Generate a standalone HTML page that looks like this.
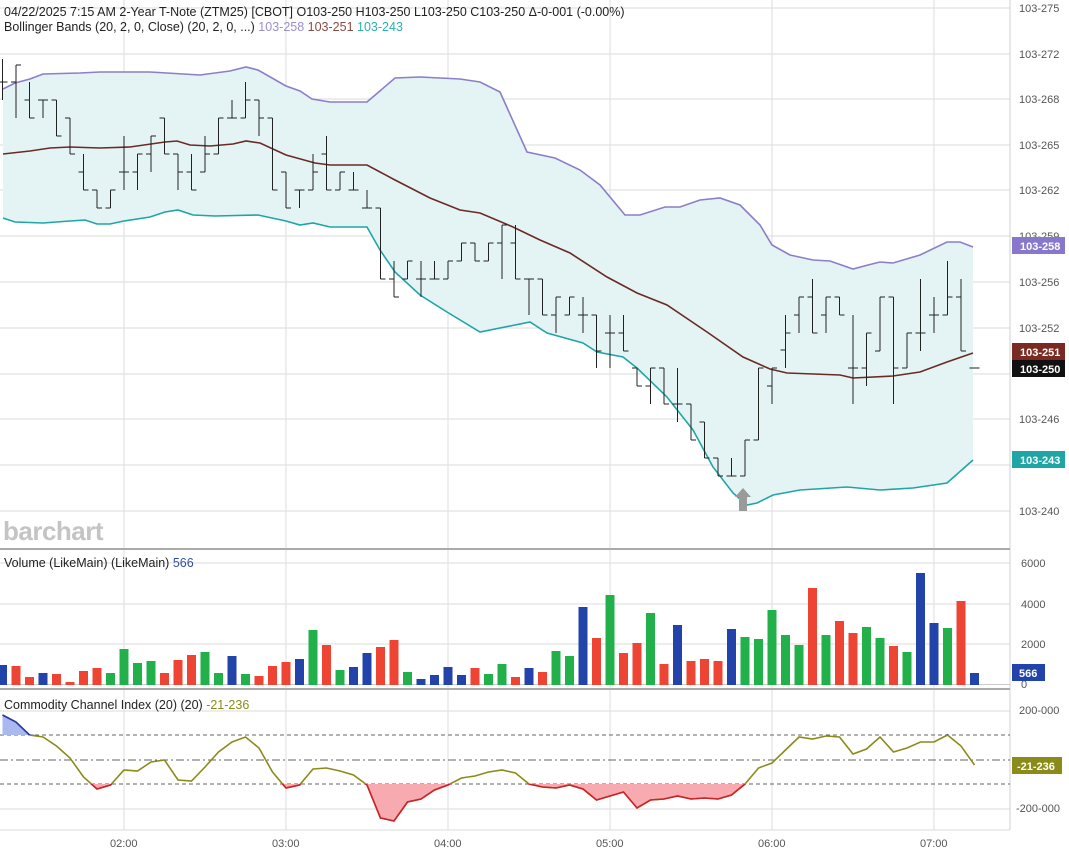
<!DOCTYPE html>
<html><head><meta charset="utf-8"><style>
body{margin:0;background:#fff;width:1069px;height:857px;overflow:hidden;font-family:"Liberation Sans",sans-serif}
svg{position:absolute;left:0;top:0}
</style></head><body>
<svg id="s" width="1069" height="857" viewBox="0 0 1069 857" font-family="Liberation Sans, sans-serif">
<g id="grid" stroke="#e2e2e2" stroke-width="1.2"></g>
<g id="main"></g>
<text x="4" y="16" font-size="12.5" fill="#222">04/22/2025  7:15 AM 2-Year T-Note (ZTM25) [CBOT] O103-250 H103-250 L103-250 C103-250 Δ-0-001 (-0.00%)</text>
<text x="4" y="31" font-size="12.5" fill="#222">Bollinger Bands (20, 2, 0, Close)  (20, 2, 0, ...) <tspan fill="#9a8fd0">103-258</tspan> <tspan fill="#8a4a44">103-251</tspan> <tspan fill="#2ab0b0">103-243</tspan></text>
<text x="3" y="540" font-size="26" font-weight="bold" fill="#c4c4c4" letter-spacing="-0.5">barchart</text>
<text x="4" y="567" font-size="12.5" fill="#222">Volume (LikeMain)  (LikeMain) <tspan fill="#3050a8">566</tspan></text>
<text x="4" y="709" font-size="12.5" fill="#222">Commodity Channel Index (20)  (20) <tspan fill="#8b8b1a">-21-236</tspan></text>
<g font-size="11" fill="#555">
<text x="1019" y="12">103-275</text><text x="1019" y="58">103-272</text><text x="1019" y="103">103-268</text><text x="1019" y="149">103-265</text><text x="1019" y="194">103-262</text><text x="1019" y="240">103-259</text><text x="1019" y="286">103-256</text><text x="1019" y="332">103-252</text><text x="1019" y="423">103-246</text><text x="1019" y="515">103-240</text>
<text x="1021" y="567">6000</text><text x="1021" y="608">4000</text><text x="1021" y="648">2000</text><text x="1021" y="688">0</text>
<text x="1019" y="714">200-000</text><text x="1016" y="812">-200-000</text>
<text x="110" y="847">02:00</text><text x="272" y="847">03:00</text><text x="434" y="847">04:00</text><text x="596" y="847">05:00</text><text x="758" y="847">06:00</text><text x="920" y="847">07:00</text>
</g>
<g font-size="11" font-weight="bold" fill="#fff">
<rect x="1012" y="237" width="53" height="17" fill="#8877cc"/><text x="1020" y="250">103-258</text>
<rect x="1012" y="343" width="53" height="17" fill="#7b2a22"/><text x="1020" y="356">103-251</text>
<rect x="1012" y="360" width="53" height="17" fill="#111"/><text x="1020" y="373">103-250</text>
<rect x="1012" y="451" width="53" height="17" fill="#1fa5a5"/><text x="1020" y="464">103-243</text>
<rect x="1012" y="664" width="33" height="17" fill="#2244aa"/><text x="1019" y="677">566</text>
<rect x="1012" y="757" width="50" height="17" fill="#8b8b1a"/><text x="1017" y="770">-21-236</text>
</g>
</svg>
<script>
var NS="http://www.w3.org/2000/svg",g=document.getElementById('grid'),m=document.getElementById('main');
function el(p,t,a){var e=document.createElementNS(NS,t);for(var k in a)e.setAttribute(k,a[k]);p.appendChild(e);return e}
[8,54,99,145,190,236,282,328,374,419,465,511,563,604,644,711,735,760,784,809,830].forEach(function(y){if([735,760,784].indexOf(y)<0)el(g,'line',{x1:0,x2:1010,y1:y,y2:y})});
[124,286,448,610,772,934].forEach(function(x){el(g,'line',{x1:x,x2:x,y1:0,y2:830})});
el(m,'line',{x1:1010,x2:1010,y1:0,y2:830,stroke:'#d0d0d0'});
el(m,'line',{x1:0,x2:1010,y1:549,y2:549,stroke:'#aaa','stroke-width':2});
el(m,'line',{x1:0,x2:1010,y1:689,y2:689,stroke:'#aaa','stroke-width':2});
el(m,'line',{x1:0,x2:1010,y1:684.5,y2:684.5,stroke:'#ccc'});
function X(i){return 2.5+i*13.5}
var up=[[3,89],[15,83],[30,79],[43,74],[80,73],[100,72],[150,72],[200,75],[230,71],[246,67],[258,70],[286,86],[300,91],[312,99],[330,102],[367,102],[395,78],[420,77],[460,79],[480,82],[500,92],[527,152],[555,158],[580,170],[600,185],[625,215],[640,215],[665,207],[680,207],[700,200],[720,198],[740,205],[760,225],[772,245],[790,255],[813,260],[830,261],[853,269],[868,265],[880,262],[893,263],[920,255],[947,242],[960,242],[973,247]];
var lo=[[3,218],[15,222],[43,223],[70,221],[85,220],[97,224],[110,224],[124,221],[150,217],[165,212],[178,210],[193,215],[215,216],[258,215],[286,221],[300,225],[313,223],[330,227],[367,227],[380,250],[395,272],[420,295],[447,312],[480,332],[530,322],[547,333],[583,343],[597,352],[623,357],[637,368],[667,397],[693,430],[713,467],[733,493],[747,505],[757,503],[773,495],[800,490],[847,487],[880,490],[913,488],[947,483],[973,460]];
var mid=[[3,154],[30,151],[50,148],[70,147],[100,148],[130,147],[165,142],[177,141],[190,145],[210,146],[233,144],[246,141],[260,143],[286,155],[315,163],[330,165],[367,165],[395,180],[430,198],[460,210],[480,213],[513,227],[540,240],[570,253],[607,277],[637,293],[667,305],[707,332],[743,357],[770,369],[787,373],[840,375],[853,378],[893,376],[920,372],[947,362],[973,353]];
function pts(a){return a.map(function(p){return p[0]+','+p[1]}).join(' ')}
el(m,'polygon',{points:pts(up)+' '+pts(lo.slice().reverse()),fill:'#e4f4f5'});
el(m,'polyline',{points:pts(up),fill:'none',stroke:'#8a7fc8','stroke-width':1.6});
el(m,'polyline',{points:pts(lo),fill:'none',stroke:'#1fa5a5','stroke-width':1.6});
el(m,'polyline',{points:pts(mid),fill:'none',stroke:'#6b2a22','stroke-width':1.6});
// O H L C
var B=[[82,59,100,82],[82,65,118,65],[100,82,118,118],[100,100,118,100],[100,100,136,136],[118,118,154,154],[172,154,190,190],[190,190,208,208],[208,190,208,190],[172,136,190,172],[172,154,190,154],[154,136,172,136],[118,118,154,154],[154,154,190,172],[172,154,190,190],[172,136,172,154],[154,118,154,118],[118,100,118,118],[118,82,118,100],[100,100,136,118],[118,118,190,190],[172,172,208,208],[190,190,208,190],[190,154,190,172],[154,136,190,190],[190,172,190,172],[190,172,190,190],[208,190,208,208],[208,208,279,279],[279,261,297,297],[279,261,279,261],[279,261,297,279],[279,261,279,279],[279,261,279,261],[261,243,261,243],[243,243,261,261],[261,243,261,243],
[243,225,279,225],[243,225,279,279],[279,279,315,279],[279,279,315,315],[315,297,333,297],[315,297,315,297],[315,297,333,315],[315,315,368,351],[333,315,368,333],[333,315,351,351],[368,368,386,386],[386,368,404,368],[368,368,404,404],[404,368,422,404],[404,404,440,440],[422,422,458,458],[458,458,476,476],[476,458,476,476],[476,440,476,440],[440,368,440,368],[386,368,404,368],[350,315,368,333],[315,297,333,297],[297,279,333,333],[315,297,333,297],[297,297,315,315],[368,315,404,368],[368,333,386,333],[351,297,351,297],[297,297,404,368],[368,333,368,333],[333,279,351,333],[315,297,333,315],[315,261,315,297],[297,279,351,351],[368,368,368,368]];
B.forEach(function(b,i){var x=X(i);el(m,'line',{x1:x,x2:x,y1:b[1],y2:b[2],stroke:'#222'});el(m,'line',{x1:x-5,x2:x,y1:b[0],y2:b[0],stroke:'#222'});el(m,'line',{x1:x,x2:x+5,y1:b[3],y2:b[3],stroke:'#222'});});
el(m,'polygon',{points:'743,488 751,497 747,497 747,511 739,511 739,497 735,497',fill:'#9a9a9a'});
// volume
var G='#22b04b',R='#ee4433',U='#2244aa';
var V=[[U,665],[R,666],[R,677],[U,673],[R,674],[R,682],[R,671],[R,668],[G,673],[G,649],[G,663],[G,661],[R,673],[R,660],[R,655],[G,652],[G,673],[U,656],[G,674],[R,676],[R,666],[R,662],[U,659],[G,630],[R,645],[G,670],[U,667],[U,653],[R,647],[R,640],[G,672],[U,679],[U,675],[U,667],[U,675],[R,668],[G,674],
[G,664],[R,677],[U,668],[R,672],[G,651],[G,656],[U,607],[R,638],[G,595],[R,653],[R,643],[G,613],[R,664],[U,625],[R,661],[R,659],[R,661],[U,629],[G,637],[G,639],[G,610],[G,635],[G,645],[R,588],[G,635],[R,621],[R,633],[G,627],[G,638],[R,646],[G,652],[U,573],[U,623],[G,628],[R,601],[U,673]];
V.forEach(function(v,i){var x=X(i);el(m,'rect',{x:x-4.5,y:v[1],width:9,height:685-v[1],fill:v[0]})});
// CCI
[[735,'4,3'],[784,'4,3'],[760,'8,3,2,3']].forEach(function(d){el(m,'line',{x1:0,x2:1010,y1:d[0],y2:d[0],stroke:'#666','stroke-dasharray':d[1]})});
var C=[715,722,735,737,746,758,777,789,785,770,771,762,760,780,781,767,752,742,737,748,772,788,785,769,768,771,775,785,818,821,802,799,790,785,778,776,772,770,773,784,787,788,785,789,800,796,792,808,800,799,796,799,798,799,795,784,768,763,750,737,739,736,737,754,749,737,752,748,742,742,735,746,765];
var cp=C.map(function(y,i){return [X(i),y]});
// fills
var d='';el(m,'clipPath',{id:'ca'}).appendChild(document.createElementNS(NS,'rect')).setAttribute('height','0');
var ab=el(m,'clipPath',{id:'above'});el(ab,'rect',{x:0,y:690,width:1010,height:45});
var bl=el(m,'clipPath',{id:'below'});el(bl,'rect',{x:0,y:784,width:1010,height:50});
var poly=pts(cp);
el(m,'polygon',{points:X(0)+',735 '+poly+' '+X(72)+',735','fill':'#aab8f0','clip-path':'url(#above)'});
el(m,'polygon',{points:X(0)+',784 '+poly+' '+X(72)+',784','fill':'#f7aab0','clip-path':'url(#below)'});
el(m,'polyline',{points:poly,fill:'none',stroke:'#8b8b1a','stroke-width':1.6});
el(m,'polyline',{points:poly,fill:'none',stroke:'#2a3aa8','stroke-width':1.6,'clip-path':'url(#above)'});
el(m,'polyline',{points:poly,fill:'none',stroke:'#d0202a','stroke-width':1.6,'clip-path':'url(#below)'});
</script>
</body></html>
